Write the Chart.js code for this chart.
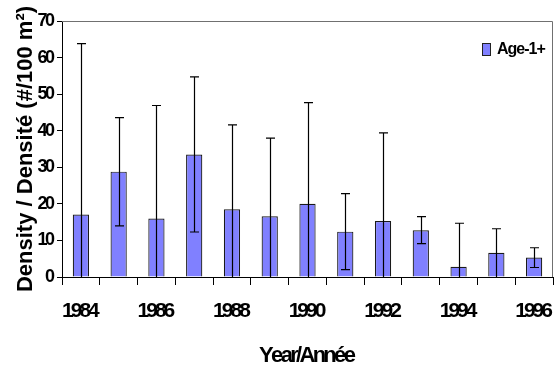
<!DOCTYPE html>
<html>
<head>
<meta charset="utf-8">
<script src="https://cdn.jsdelivr.net/npm/chart.js@4.4.1/dist/chart.umd.min.js"></script>
<style>
  html, body { margin: 0; padding: 0; background: #fff; }
  canvas { display: block; }
</style>
</head>
<body>
<canvas id="c" width="558" height="370"></canvas>
<script>
// Age-1+ density per year, with standard deviation
const years = ['1984','1985','1986','1987','1988','1989','1990','1991','1992','1993','1994','1995','1996'];
const density = [17.1, 28.8, 16.0, 33.5, 18.5, 16.6, 20.0, 12.4, 15.3, 12.8, 2.8, 6.6, 5.3];
const deviation = [46.7, 14.8, 30.9, 21.2, 23.1, 21.4, 27.7, 10.4, 24.1, 3.7, 11.9, 6.6, 2.7];
const yTicks = [0, 10, 20, 30, 40, 50, 60, 70];
const seriesName = 'Age-1+';
const xTitle = 'Year/Année';
const yTitle = 'Density / Densité (#/100 m²)';

const FONT = "'Liberation Sans', Arial, sans-serif";
const BAR_FILL = '#8080ff';

const canvas = document.getElementById('c');
const ctx = canvas.getContext('2d');

// Tighter letter spacing (px) for the compact bold labels
function spacingFor(text) {
  if (/^\d{4}$/.test(text)) return -3;
  if (/^\d{1,2}$/.test(text)) return -2.5;
  if (text === xTitle) return -2.7;
  if (text === seriesName) return -1;
  return 0;
}
const baseFillText = ctx.fillText.bind(ctx);
ctx.fillText = function (text, x, y, maxWidth) {
  const s = String(text);
  const sp = spacingFor(s);
  if (!sp || s.length < 2) {
    if (maxWidth === undefined) baseFillText(s, x, y);
    else baseFillText(s, x, y, maxWidth);
    return;
  }
  const chars = Array.from(s);
  const widths = chars.map(ch => ctx.measureText(ch).width);
  const total = widths.reduce((a, b) => a + b, 0) + sp * (chars.length - 1);
  const align = ctx.textAlign;
  let cx = x;
  if (align === 'center') cx = x - total / 2;
  else if (align === 'right' || align === 'end') cx = x - total;
  ctx.textAlign = 'left';
  chars.forEach((ch, i) => {
    baseFillText(ch, cx, y);
    cx += widths[i] + sp;
  });
  ctx.textAlign = align;
};

// Error bars drawn from the density and deviation arrays through the scales
const errorBars = {
  id: 'errorBars',
  afterDatasetsDraw(chart) {
    const c = chart.ctx;
    const yScale = chart.scales.y;
    const meta = chart.getDatasetMeta(0);
    c.save();
    c.strokeStyle = '#000';
    c.lineWidth = 1.2;
    meta.data.forEach((bar, i) => {
      const x = Math.round(bar.x) + 0.5;
      const hi = density[i] + deviation[i];
      const lo = density[i] - deviation[i];
      const yHi = yScale.getPixelForValue(hi);
      const yLo = yScale.getPixelForValue(Math.max(0, lo));
      c.beginPath();
      c.moveTo(x, yHi);
      c.lineTo(x, yLo);
      c.moveTo(x - 4.5, yHi);
      c.lineTo(x + 4.5, yHi);
      if (lo > 0.3) {
        c.moveTo(x - 4.5, yLo);
        c.lineTo(x + 4.5, yLo);
      }
      c.stroke();
    });
    c.restore();
  }
};

// Plot frame (top and right edges) and the inset legend
const frameAndLegend = {
  id: 'frameAndLegend',
  afterDraw(chart) {
    const c = chart.ctx;
    const a = chart.chartArea;
    c.save();
    c.strokeStyle = '#707070';
    c.lineWidth = 1;
    c.beginPath();
    c.moveTo(a.left, a.top + 0.5);
    c.lineTo(a.right - 0.5, a.top + 0.5);
    c.lineTo(a.right - 0.5, a.bottom);
    c.stroke();

    // legend
    const bx = a.right - 71, by = a.top + 22;
    c.fillStyle = BAR_FILL;
    c.fillRect(bx, by, 9, 13);
    c.strokeStyle = '#222';
    c.strokeRect(bx + 0.5, by + 0.5, 8, 12);
    c.fillStyle = '#000';
    c.font = 'bold 16px ' + FONT;
    c.textBaseline = 'middle';
    c.textAlign = 'left';
    c.fillText(seriesName, bx + 15, by + 7);
    c.restore();
  }
};

new Chart(ctx, {
  type: 'bar',
  data: {
    labels: years,
    datasets: [{
      label: seriesName,
      data: density,
      backgroundColor: BAR_FILL,
      borderColor: '#1a1a1a',
      borderWidth: 1.2,
      borderSkipped: 'bottom',
      categoryPercentage: 1,
      barPercentage: 0.43
    }]
  },
  options: {
    responsive: false,
    devicePixelRatio: 1,
    animation: false,
    layout: { padding: { top: 21, right: 5, left: 0, bottom: 0 } },
    plugins: {
      legend: { display: false },
      tooltip: { enabled: false }
    },
    scales: {
      x: {
        afterFit(scale) {
          scale.height = 93;
          scale.paddingLeft = 0;
          scale.paddingRight = 0;
        },
        grid: {
          display: true,
          drawOnChartArea: false,
          drawTicks: true,
          tickLength: 8,
          color: '#000',
          offset: true
        },
        border: { display: true, color: '#000', width: 1 },
        ticks: {
          autoSkip: false,
          maxRotation: 0,
          padding: 14,
          color: '#000',
          font: { family: FONT, size: 21, weight: 'bold' },
          callback(value, index) { return index % 2 === 0 ? years[index] : ''; }
        },
        title: {
          display: true,
          text: xTitle,
          color: '#000',
          font: { family: FONT, size: 22, weight: 'bold' },
          padding: { top: 0, bottom: 1 }
        }
      },
      y: {
        min: 0,
        max: 70,
        afterFit(scale) {
          scale.width = 62;
          scale.paddingTop = 0;
          scale.paddingBottom = 0;
        },
        afterBuildTicks(scale) { scale.ticks = yTicks.map(v => ({ value: v })); },
        grid: {
          display: true,
          drawOnChartArea: false,
          drawTicks: true,
          tickLength: 5,
          color: '#000'
        },
        border: { display: true, color: '#000', width: 1 },
        ticks: {
          padding: 2,
          color: '#000',
          font: { family: FONT, size: 18, weight: 'bold' }
        },
        title: {
          display: true,
          text: yTitle,
          color: '#000',
          font: { family: FONT, size: 22, weight: 'bold' },
          padding: { top: 13, bottom: 0 }
        }
      }
    }
  },
  plugins: [errorBars, frameAndLegend]
});
</script>
</body>
</html>
